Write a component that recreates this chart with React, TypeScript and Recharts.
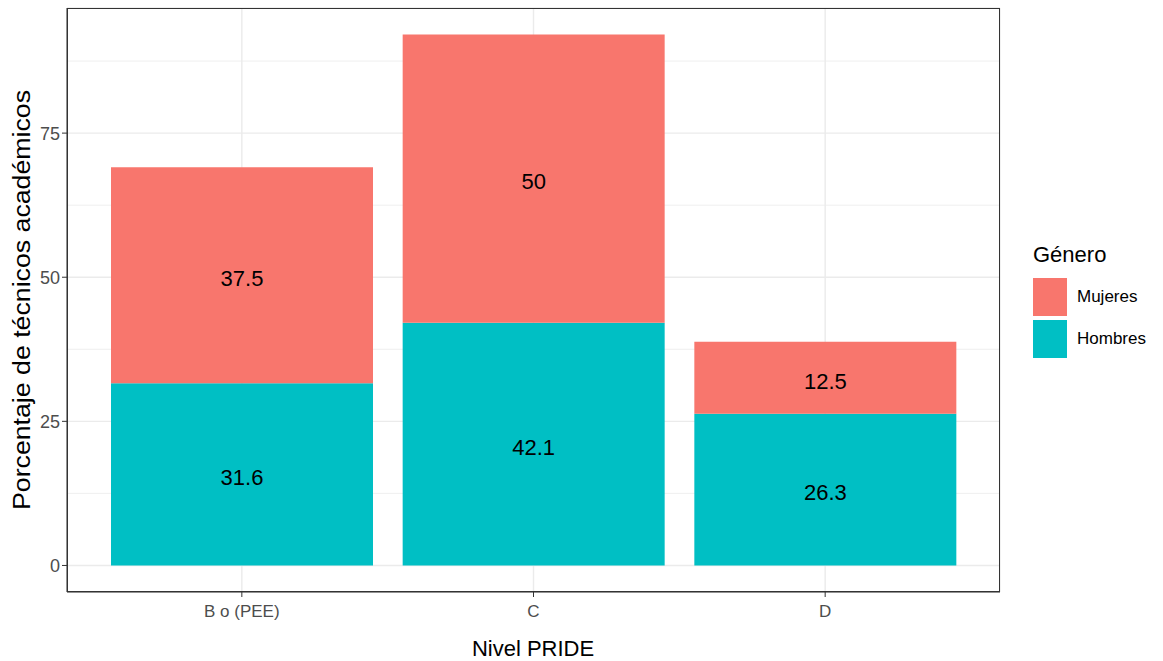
import React from "react";
import { Bar, BarChart, CartesianGrid, LabelList, XAxis, YAxis } from "recharts";

const niveles = ["B o (PEE)", "C", "D"];
const hombres = [31.6, 42.1, 26.3];
const mujeres = [37.5, 50, 12.5];
const majorTicks = [0, 25, 50, 75];
const minorTicks = [12.5, 37.5, 62.5, 87.5];
const Y_DOMAIN: [number, number] = [-4.605, 96.705];

const FONT = "'Liberation Sans', Arial, sans-serif";
const MUJERES_COLOR = "#F8766D";
const HOMBRES_COLOR = "#00BFC4";

const data = niveles.map((nivel, i) => ({ nivel, Hombres: hombres[i], Mujeres: mujeres[i] }));

// minor grid rows, mapped the same way as the linear y scale
function minorRows({ yAxis, offset }: any) {
  if (yAxis && typeof yAxis.scale === "function") return minorTicks.map((v) => yAxis.scale(v));
  const [lo, hi] = Y_DOMAIN;
  return minorTicks.map((v) => offset.top + (offset.height * (hi - v)) / (hi - lo));
}

function GeneroLegend() {
  const items = [
    { label: "Mujeres", color: MUJERES_COLOR },
    { label: "Hombres", color: HOMBRES_COLOR },
  ];
  return (
    <div style={{ position: "absolute", left: 1033, top: 242, fontFamily: FONT }}>
      <div style={{ fontSize: 22, color: "#000", marginBottom: 10, lineHeight: "26px" }}>Género</div>
      {items.map((it) => (
        <div key={it.label} style={{ display: "flex", alignItems: "center", height: 38, marginBottom: 4 }}>
          <div style={{ width: 34, height: 38, background: it.color }} />
          <span style={{ marginLeft: 10, fontSize: 17, color: "#000" }}>{it.label}</span>
        </div>
      ))}
    </div>
  );
}

export default function App() {
  return (
    <div style={{ position: "absolute", left: 0, top: 0, width: 1163, height: 661, background: "#fff", fontFamily: FONT }}>
      <BarChart width={1163} height={661} data={data} margin={{ top: 8, right: 163, left: 10, bottom: 24 }}>
        <CartesianGrid vertical={false} stroke="#EBEBEB" strokeWidth={0.8} horizontalCoordinatesGenerator={minorRows} />
        <CartesianGrid stroke="#EBEBEB" strokeWidth={1.4} />
        <XAxis
          dataKey="nivel"
          padding={{ left: 29, right: 29 }}
          tickLine={{ stroke: "#333333" }}
          tickSize={5}
          axisLine={{ stroke: "#333333" }}
          height={45}
          tick={{ fill: "#4D4D4D", fontSize: 17, fontFamily: FONT, dy: 6 }}
        />
        <YAxis
          type="number"
          domain={Y_DOMAIN}
          ticks={majorTicks}
          allowDataOverflow
          width={57}
          tickLine={{ stroke: "#333333" }}
          tickSize={5}
          axisLine={{ stroke: "#333333" }}
          tick={{ fill: "#4D4D4D", fontSize: 18, fontFamily: FONT }}
        />
        <Bar dataKey="Hombres" stackId="a" fill={HOMBRES_COLOR} barSize={262} isAnimationActive={false}>
          <LabelList dataKey="Hombres" position="center" fill="#000" fontSize={22} fontFamily={FONT} dy={3} />
        </Bar>
        <Bar dataKey="Mujeres" stackId="a" fill={MUJERES_COLOR} barSize={262} isAnimationActive={false}>
          <LabelList dataKey="Mujeres" position="center" fill="#000" fontSize={22} fontFamily={FONT} dy={3} />
        </Bar>
        <text
          x={22}
          y={300}
          transform="rotate(-90 22 300)"
          textAnchor="middle"
          dominantBaseline="central"
          fontSize={23}
          textLength={420}
          lengthAdjust="spacingAndGlyphs"
          fontFamily={FONT}
          fill="#000"
        >
          Porcentaje de técnicos académicos
        </text>
        <text x={533} y={648} textAnchor="middle" dominantBaseline="central" fontSize={22} fontFamily={FONT} fill="#000">
          Nivel PRIDE
        </text>
      </BarChart>
      <div
        style={{
          position: "absolute",
          left: 67,
          top: 8,
          width: 933,
          height: 584,
          border: "1px solid #333333",
          boxSizing: "border-box",
          pointerEvents: "none",
        }}
      />
      <GeneroLegend />
    </div>
  );
}
